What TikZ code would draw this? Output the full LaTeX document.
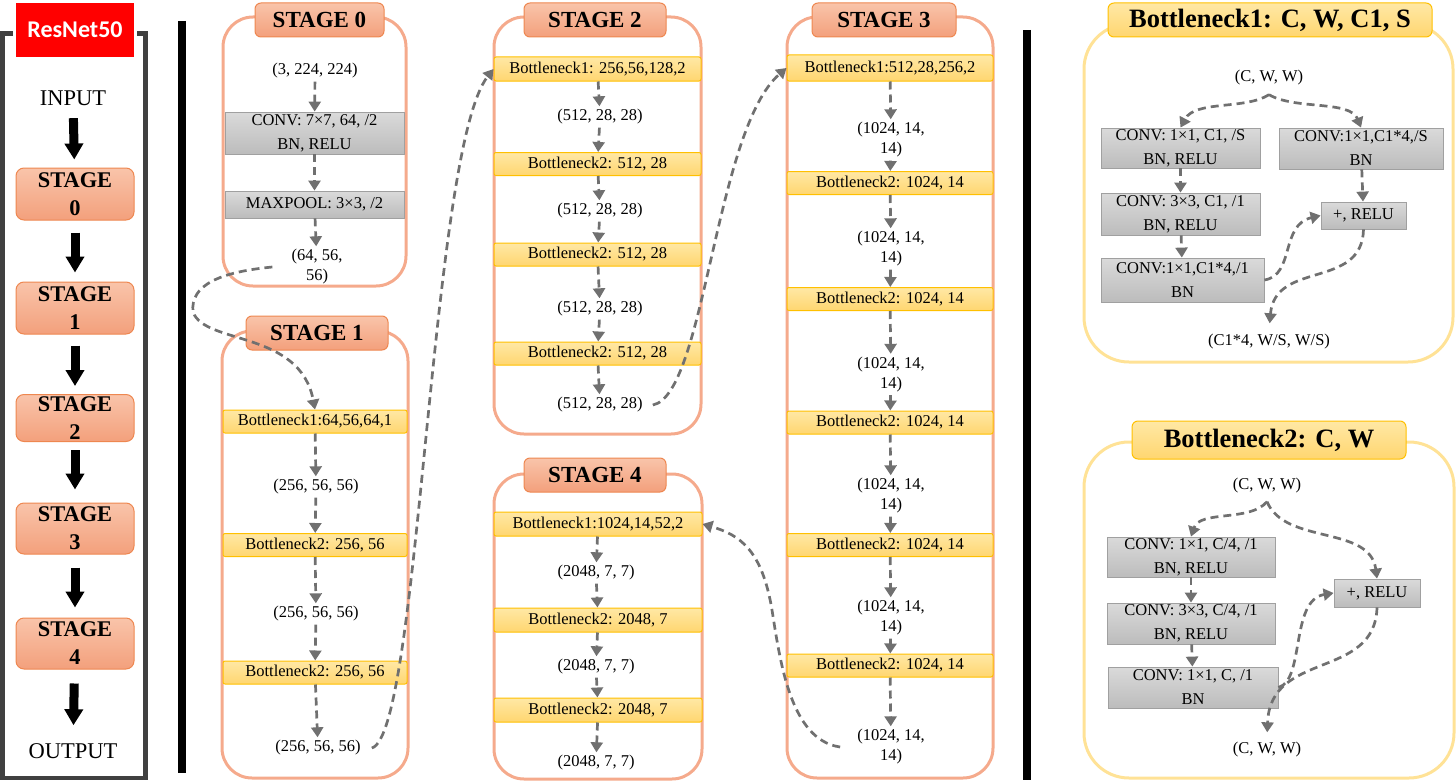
\documentclass[tikz,border=0pt]{standalone}
\usepackage{fontspec}
\setmainfont{Liberation Serif}
\newfontfamily\calfont{Carlito}
\usetikzlibrary{arrows.meta}
\definecolor{panelc}{RGB}{245,170,140}
\definecolor{stbord}{RGB}{238,135,80}
\definecolor{sttop}{RGB}{249,196,170}
\definecolor{stbot}{RGB}{243,160,124}
\definecolor{ytop}{RGB}{255,232,165}
\definecolor{ybot}{RGB}{255,214,112}
\definecolor{ybord}{RGB}{255,192,0}
\definecolor{gtop}{RGB}{218,218,218}
\definecolor{gbot}{RGB}{188,188,188}
\definecolor{gbord}{RGB}{160,160,160}
\definecolor{dgray}{RGB}{112,112,112}
\definecolor{bpanel}{RGB}{255,226,150}
\definecolor{framec}{RGB}{64,64,64}
\newcommand\fsbody{\fontsize{16.5}{20}\selectfont}
\newcommand\fsbox{\fontsize{16.5}{24}\selectfont}
\newcommand\fsst{\fontsize{23}{26}\selectfont\bfseries}
\newcommand\fsbt{\fontsize{26.5}{30}\selectfont\bfseries}
\newcommand\fsbig{\fontsize{22.5}{26}\selectfont}
\newcommand\fslst{\fontsize{22.4}{28}\selectfont\bfseries}
\newcommand\fsres{\calfont\bfseries\fontsize{24}{28}\selectfont}
\begin{document}
\begin{tikzpicture}[x=1pt,y=-1pt,
  panel/.style={draw=panelc,line width=3pt,rounded corners=30pt,inner sep=0pt},
  bpan/.style={draw=bpanel,line width=3pt,rounded corners=45pt,inner sep=0pt},
  stitle/.style={draw=stbord,line width=1pt,top color=sttop,bottom color=stbot,rounded corners=6pt,font=\fsst,inner sep=0pt,minimum height=34pt},
  btitle/.style={draw=ybord,line width=1pt,top color=ytop,bottom color=ybot,rounded corners=6pt,font=\fsbt,inner sep=0pt},
  ybox/.style={draw=ybord,line width=1pt,top color=ytop,bottom color=ybot,rounded corners=2pt,font=\fsbody,inner sep=0pt,minimum height=23pt},
  gbox/.style={draw=gbord,line width=0.8pt,top color=gtop,bottom color=gbot,font=\fsbox,align=center,inner sep=0pt},
  lbl/.style={font=\fsbody,align=center,inner sep=3pt},
  darr/.style={draw=dgray,line width=2.7pt,dash pattern=on 8pt off 5pt,-{Triangle[length=10pt,width=12pt]}},
  blk/.style={line width=9pt,-{Triangle[length=16pt,width=18pt]}},
  lstage/.style={draw=stbord,line width=1pt,top color=sttop,bottom color=stbot,rounded corners=8pt,font=\fslst,align=center,minimum width=118pt,inner sep=0pt},
  bigt/.style={font=\fsbig,inner sep=0pt},
]
\useasboundingbox (0,0) rectangle (1456,784);
% left panel
\draw[framec,line width=4.5pt] (13,33.5) -- (2.5,33.5) -- (2.5,778) -- (145.5,778) -- (145.5,33.5) -- (137,33.5);
\node[fill=red,text=white,font=\fsres,minimum width=118pt,minimum height=54pt,inner sep=0pt] (rn) at (75,30) {ResNet50};
\node[bigt] (inp) at (73,98) {INPUT};
\node[lstage,minimum height=52pt] (L0) at (75,194) {STAGE\\0};
\node[lstage,minimum height=52pt] (L1) at (75,308) {STAGE\\1};
\node[lstage,minimum height=47pt] (L2) at (75,418) {STAGE\\2};
\node[lstage,minimum height=51pt] (L3) at (75,528.5) {STAGE\\3};
\node[lstage,minimum height=51pt] (L4) at (75,643.5) {STAGE\\4};
\node[bigt] (outp) at (73,751) {OUTPUT};
\draw[blk,shorten <=12.5pt,shorten >=8pt] (inp) -- (L0);
\draw[blk,shorten <=12pt,shorten >=9pt] (L0) -- (L1);
\draw[blk,shorten <=11pt,shorten >=8pt] (L1) -- (L2);
\draw[blk,shorten <=8pt,shorten >=13pt] (L2) -- (L3);
\draw[blk,shorten <=13pt,shorten >=10pt] (L3) -- (L4);
\draw[blk,shorten <=14pt,shorten >=18pt] (L4) -- (outp);
% separators
\draw[line width=8pt] (182,21) -- (182,773);
\draw[line width=8pt] (1027,30) -- (1027,780);
% stage 0
\node[panel,minimum width=183pt,minimum height=269pt] (s0p) at (314.5,151.5) {};
\node[stitle,minimum width=129pt] (s0t) at (319.5,20) {STAGE 0};
\node[lbl] (s0a) at (315,71) {(3, 224, 224)};
\node[gbox,minimum width=179pt,minimum height=42pt] (s0b) at (314.5,133) {CONV: 7×7, 64, /2\\BN, RELU};
\node[gbox,minimum width=179pt,minimum height=27pt] (s0c) at (314.5,204.5) {MAXPOOL: 3×3, /2};
\node[lbl] (s0d) at (317,267) {(64, 56,\\56)};
\draw[darr] (s0a) -- (s0b);
\draw[darr] (s0b) -- (s0c);
\draw[darr] (s0c) -- (s0d);
% stage 1
\node[panel,minimum width=186pt,minimum height=447pt] (s1p) at (315,554.5) {};
\node[stitle,minimum width=142pt] (s1t) at (317,333) {STAGE 1};
\node[ybox,minimum width=184pt] (s1a) at (315,421.5) {Bottleneck1:64,56,64,1};
\node[lbl] (s1b) at (316,487) {(256, 56, 56)};
\node[ybox,minimum width=184pt] (s1c) at (315,545) {Bottleneck2: 256, 56};
\node[lbl] (s1d) at (316,614) {(256, 56, 56)};
\node[ybox,minimum width=184pt] (s1e) at (315,672.5) {Bottleneck2: 256, 56};
\node[lbl] (s1f) at (318,748) {(256, 56, 56)};
\draw[darr] (s1a) -- (s1b);
\draw[darr] (s1b) -- (s1c);
\draw[darr] (s1c) -- (s1d);
\draw[darr] (s1d) -- (s1e);
\draw[darr] (s1e) -- (s1f);
% stage 2
\node[panel,minimum width=207pt,minimum height=417pt] (s2p) at (597.5,225.5) {};
\node[stitle,minimum width=142pt] (s2t) at (595,20) {STAGE 2};
\node[ybox,minimum width=207pt,minimum height=24pt] (s2a) at (597.5,69) {Bottleneck1: 256,56,128,2};
\node[lbl] (s2b) at (600,117) {(512, 28, 28)};
\node[ybox,minimum width=207pt] (s2c) at (597.5,164) {Bottleneck2: 512, 28};
\node[lbl] (s2d) at (600,211) {(512, 28, 28)};
\node[ybox,minimum width=207pt] (s2e) at (597.5,254.5) {Bottleneck2: 512, 28};
\node[lbl] (s2f) at (600,309) {(512, 28, 28)};
\node[ybox,minimum width=207pt] (s2g) at (597.5,353.5) {Bottleneck2: 512, 28};
\node[lbl] (s2h) at (600,405) {(512, 28, 28)};
\draw[darr] (s2a) -- (s2b);
\draw[darr] (s2b) -- (s2c);
\draw[darr] (s2c) -- (s2d);
\draw[darr] (s2d) -- (s2e);
\draw[darr] (s2e) -- (s2f);
\draw[darr] (s2f) -- (s2g);
\draw[darr] (s2g) -- (s2h);
% stage 3
\node[panel,minimum width=206pt,minimum height=761pt] (s3p) at (890,397.5) {};
\node[stitle,minimum width=144pt] (s3t) at (884,20) {STAGE 3};
\node[ybox,minimum width=206pt,minimum height=26pt] (s3a) at (890,68) {Bottleneck1:512,28,256,2};
\node[lbl] (s3b) at (891,140) {(1024, 14,\\14)};
\node[ybox,minimum width=206pt] (s3c) at (890,183) {Bottleneck2: 1024, 14};
\node[lbl] (s3d) at (891,249) {(1024, 14,\\14)};
\node[ybox,minimum width=206pt] (s3e) at (890,299) {Bottleneck2: 1024, 14};
\node[lbl] (s3f) at (891,374.5) {(1024, 14,\\14)};
\node[ybox,minimum width=206pt] (s3g) at (890,422.5) {Bottleneck2: 1024, 14};
\node[lbl] (s3h) at (891,496) {(1024, 14,\\14)};
\node[ybox,minimum width=206pt] (s3i) at (890,545) {Bottleneck2: 1024, 14};
\node[lbl] (s3j) at (891,618) {(1024, 14,\\14)};
\node[ybox,minimum width=206pt] (s3k) at (890,665.5) {Bottleneck2: 1024, 14};
\node[lbl] (s3l) at (891,747) {(1024, 14,\\14)};
\draw[darr] (s3a) -- (s3b);
\draw[darr] (s3b) -- (s3c);
\draw[darr] (s3c) -- (s3d);
\draw[darr] (s3d) -- (s3e);
\draw[darr] (s3e) -- (s3f);
\draw[darr] (s3f) -- (s3g);
\draw[darr] (s3g) -- (s3h);
\draw[darr] (s3h) -- (s3i);
\draw[darr] (s3i) -- (s3j);
\draw[darr] (s3j) -- (s3k);
\draw[darr] (s3k) -- (s3l);
% stage 4
\node[panel,minimum width=208pt,minimum height=305pt] (s4p) at (598,626.5) {};
\node[stitle,minimum width=142pt] (s4t) at (595,475) {STAGE 4};
\node[ybox,minimum width=208pt,minimum height=24pt] (s4a) at (598,524) {Bottleneck1:1024,14,52,2};
\node[lbl] (s4b) at (596,573) {(2048, 7, 7)};
\node[ybox,minimum width=208pt,minimum height=24pt] (s4c) at (598,620) {Bottleneck2: 2048, 7};
\node[lbl] (s4d) at (596,667) {(2048, 7, 7)};
\node[ybox,minimum width=208pt,minimum height=24pt] (s4e) at (598,710) {Bottleneck2: 2048, 7};
\node[lbl] (s4f) at (596,763) {(2048, 7, 7)};
\draw[darr] (s4a) -- (s4b);
\draw[darr] (s4b) -- (s4c);
\draw[darr] (s4c) -- (s4d);
\draw[darr] (s4d) -- (s4e);
\draw[darr] (s4e) -- (s4f);
% stage links
\draw[darr] ([xshift=-16pt]s0d.west) .. controls (220,272) and (190,285) .. (193,312) .. controls (205,345) and (300,330) .. (s1a.north);
\draw[darr] ([xshift=8pt]s1f.east) .. controls (420,735) and (430,150) .. (s2a.west);
\draw[darr] ([xshift=7pt]s2h.east) .. controls (705,395) and (715,130) .. (s3a.west);
\draw[darr] ([xshift=-14pt]s3l.west) .. controls (790,740) and (780,660) .. (772,610) .. controls (762,550) and (740,535) .. (s4a.east);
% bottleneck 1
\node[bpan,minimum width=369pt,minimum height=338pt] (b1p) at (1268.5,193) {};
\node[btitle,minimum width=324pt,minimum height=34pt] (b1t) at (1270,20) {Bottleneck1: C, W, C1, S};
\node[lbl] (b1a) at (1269,78) {(C, W, W)};
\node[gbox,minimum width=159pt,minimum height=40pt] (b1b) at (1180.5,148) {CONV: 1×1, C1, /S\\BN, RELU};
\node[gbox,minimum width=164pt,minimum height=41pt] (b1c) at (1361,148.5) {CONV:1×1,C1*4,/S\\BN};
\node[gbox,minimum width=159pt,minimum height=42pt] (b1d) at (1180.5,214) {CONV: 3×3, C1, /1\\BN, RELU};
\node[gbox,minimum width=163pt,minimum height=44pt] (b1e) at (1182.5,280) {CONV:1×1,C1*4,/1\\BN};
\node[gbox,minimum width=85pt,minimum height=27pt] (b1f) at (1363.5,215.5) {+, RELU};
\node[lbl] (b1g) at (1269,342) {(C1*4, W/S, W/S)};
\draw[darr] ([yshift=-6pt]b1a.south) .. controls (1245,110) and (1195,100) .. (b1b.north);
\draw[darr] ([yshift=-6pt]b1a.south) .. controls (1295,110) and (1350,100) .. (b1c.north);
\draw[darr] (b1b) -- (b1d);
\draw[darr] (b1d) -- (b1e);
\draw[darr] (b1c) -- (b1f);
\draw[darr] (b1e.east) .. controls (1295,275) and (1280,225) .. (b1f.west);
\draw[darr,shorten >=8pt] (b1f.south) .. controls (1362,290) and (1275,260) .. (b1g.north);
% bottleneck 2
\node[bpan,minimum width=370pt,minimum height=336pt] (b2p) at (1269,610) {};
\node[btitle,minimum width=274pt,minimum height=38pt] (b2t) at (1269,440) {Bottleneck2: C, W};
\node[lbl] (b2a) at (1267,486) {(C, W, W)};
\node[gbox,minimum width=168pt,minimum height=40pt] (b2b) at (1191,557) {CONV: 1×1, C/4, /1\\BN, RELU};
\node[gbox,minimum width=168pt,minimum height=41pt] (b2c) at (1191,623.5) {CONV: 3×3, C/4, /1\\BN, RELU};
\node[gbox,minimum width=170pt,minimum height=41pt] (b2d) at (1193,687.5) {CONV: 1×1, C, /1\\BN};
\node[gbox,minimum width=86pt,minimum height=28pt] (b2e) at (1377,593) {+, RELU};
\node[lbl] (b2f) at (1267,750) {(C, W, W)};
\draw[darr] ([yshift=-5pt]b2a.south) .. controls (1250,522) and (1200,510) .. (b2b.north);
\draw[darr] ([yshift=-5pt]b2a.south) .. controls (1285,545) and (1370,525) .. (b2e.north);
\draw[darr] (b2b) -- (b2c);
\draw[darr] (b2c) -- (b2d);
\draw[darr] (b2d.east) .. controls (1305,680) and (1290,600) .. (b2e.west);
\draw[darr,shorten >=7pt] (b2e.south) .. controls (1375,680) and (1270,650) .. (b2f.north);
\end{tikzpicture}
\end{document}
